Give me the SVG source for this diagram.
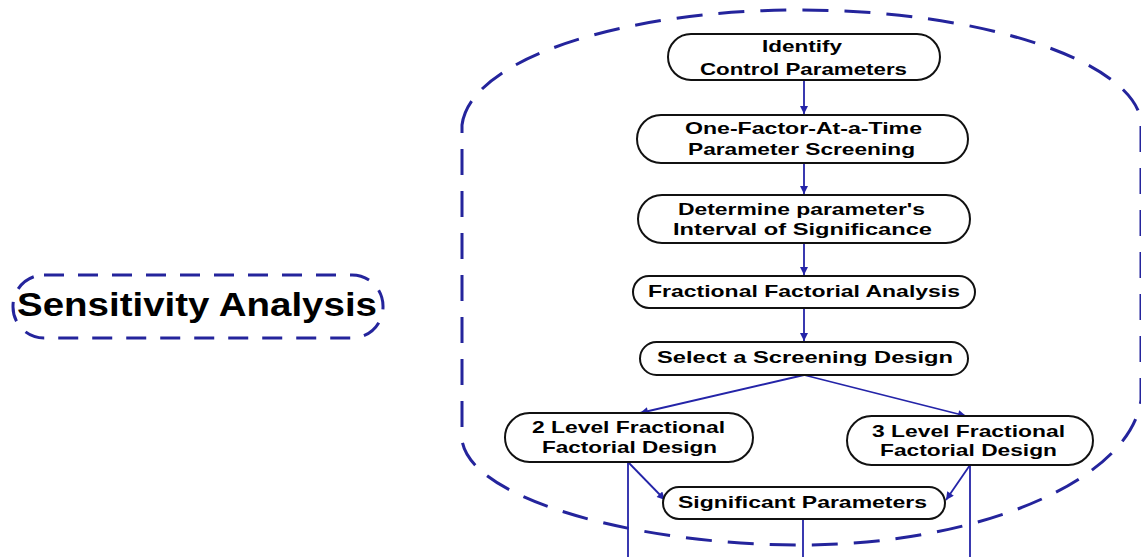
<svg xmlns="http://www.w3.org/2000/svg" width="1141" height="557" viewBox="0 0 1141 557">
<style>
.node{fill:#fff;stroke:#111;stroke-width:2}
.t{font-family:"Liberation Sans",Arial,sans-serif;font-weight:bold;font-size:17px;fill:#000;text-anchor:middle}
.big{font-family:"Liberation Sans",Arial,sans-serif;font-weight:bold;font-size:33px;fill:#000}
.conn{stroke:#2424a8;stroke-width:1.8;fill:none}
.dash{stroke:#24249c;stroke-width:3;fill:none;stroke-dasharray:26 16}
</style>
<defs>
<marker id="ah" viewBox="0 0 10 10" refX="10" refY="5" markerWidth="9" markerHeight="8" markerUnits="userSpaceOnUse" orient="auto">
<path d="M0,0 L10,5 L0,10 Z" fill="#2424a8"/>
</marker>
</defs>
<rect width="1141" height="557" fill="#fff"/>
<g id="boundary">
<path class="dash" d="M 462,125 C 470,60 620,10 800,10 C 980,10 1130,60 1141,120 L 1141,400 C 1130,480 980,545 800,545 C 640,545 470,500 462,440 Z"/>
</g>
<g id="sensitivity">
<rect x="13" y="275" width="370" height="63" rx="31" ry="31" fill="none" stroke="#24249c" stroke-width="3" stroke-dasharray="20 14"/>
<text class="big" x="17" y="316" textLength="360" lengthAdjust="spacingAndGlyphs">Sensitivity Analysis</text>
</g>
<g id="connectors">
<line class="conn" x1="804" y1="80" x2="804" y2="114" marker-end="url(#ah)"/>
<line class="conn" x1="804" y1="163" x2="804" y2="194" marker-end="url(#ah)"/>
<line class="conn" x1="804" y1="243" x2="804" y2="275" marker-end="url(#ah)"/>
<line class="conn" x1="804" y1="308" x2="804" y2="341" marker-end="url(#ah)"/>
<line class="conn" x1="804" y1="375" x2="640" y2="413" marker-end="url(#ah)"/>
<line class="conn" x1="804" y1="375" x2="966" y2="416" marker-end="url(#ah)"/>
<line class="conn" x1="628" y1="462" x2="628" y2="557"/>
<line class="conn" x1="628" y1="462" x2="665" y2="500" marker-end="url(#ah)"/>
<line class="conn" x1="970" y1="465" x2="970" y2="557"/>
<line class="conn" x1="970" y1="465" x2="946" y2="500" marker-end="url(#ah)"/>
<line class="conn" x1="803" y1="519" x2="803" y2="557"/>
</g>
<g id="n1">
<rect class="node" x="668" y="34" width="272" height="46" rx="23"/>
<text class="t" x="802" y="52" textLength="80" lengthAdjust="spacingAndGlyphs">Identify</text>
<text class="t" x="803.5" y="75" textLength="207" lengthAdjust="spacingAndGlyphs">Control Parameters</text>
</g>
<g id="n2">
<rect class="node" x="637" y="115" width="331" height="48" rx="24"/>
<text class="t" x="803.5" y="134" textLength="237" lengthAdjust="spacingAndGlyphs">One-Factor-At-a-Time</text>
<text class="t" x="801.5" y="155" textLength="227" lengthAdjust="spacingAndGlyphs">Parameter Screening</text>
</g>
<g id="n3">
<rect class="node" x="638" y="195" width="332" height="48" rx="24"/>
<text class="t" x="801.5" y="215" textLength="247" lengthAdjust="spacingAndGlyphs">Determine parameter's</text>
<text class="t" x="802.5" y="235" textLength="259" lengthAdjust="spacingAndGlyphs">Interval of Significance</text>
</g>
<g id="n4">
<rect class="node" x="633" y="276" width="342" height="32" rx="16"/>
<text class="t" x="804" y="297" textLength="312" lengthAdjust="spacingAndGlyphs">Fractional Factorial Analysis</text>
</g>
<g id="n5">
<rect class="node" x="640" y="342" width="328" height="33" rx="16.5"/>
<text class="t" x="805" y="363" textLength="296" lengthAdjust="spacingAndGlyphs">Select a Screening Design</text>
</g>
<g id="n6">
<rect class="node" x="505" y="413" width="248" height="49" rx="24.5"/>
<text class="t" x="628.5" y="433" textLength="193" lengthAdjust="spacingAndGlyphs">2 Level Fractional</text>
<text class="t" x="629.5" y="453" textLength="175" lengthAdjust="spacingAndGlyphs">Factorial Design</text>
</g>
<g id="n7">
<rect class="node" x="847" y="416" width="246" height="49" rx="24.5"/>
<text class="t" x="968.5" y="437" textLength="193" lengthAdjust="spacingAndGlyphs">3 Level Fractional</text>
<text class="t" x="968.5" y="456" textLength="177" lengthAdjust="spacingAndGlyphs">Factorial Design</text>
</g>
<g id="n8">
<rect class="node" x="663" y="487" width="282" height="32" rx="16"/>
<text class="t" x="802.5" y="508" textLength="249" lengthAdjust="spacingAndGlyphs">Significant Parameters</text>
</g>
</svg>
